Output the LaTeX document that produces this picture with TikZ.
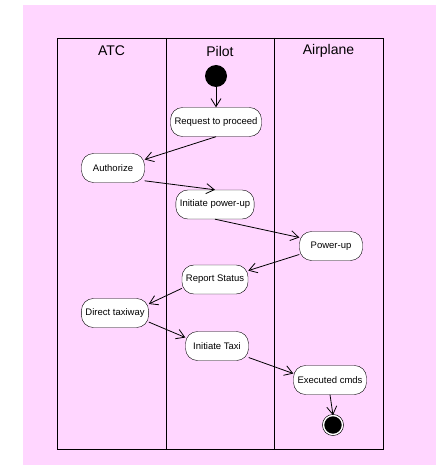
\documentclass[tikz,border=0pt]{standalone}
\usepackage{fontspec}
\setmainfont{Liberation Sans}
\usetikzlibrary{shapes.geometric, arrows.meta}
\definecolor{lanebg}{HTML}{FFD6FF}
\tikzstyle{lane} = [draw=black, line width=0.9pt]
\tikzstyle{lanetitle} = [font=\fontsize{14}{16}\selectfont]
\tikzstyle{action} = [rectangle, rounded corners=12pt, minimum width=63pt, minimum height=29pt, inner xsep=4pt, text centered, draw=black, fill=white, font=\fontsize{9.5}{11}\selectfont]
\tikzstyle{startnode} = [circle, fill=black, minimum size=22pt, inner sep=0pt]
\tikzstyle{stopnode} = [circle, draw=black, fill=black, line width=0.6pt, double=white, double distance=1.4pt, minimum size=19pt, inner sep=0pt]
\tikzstyle{arrow} = [line width=0.8pt, -{Straight Barb[length=8pt,width=10pt]}]

\begin{document}
\begin{tikzpicture}[x=1pt, y=-1pt]
\useasboundingbox (0,0) rectangle (436,465);
\fill [lanebg] (23,5) rectangle (436,465);
% swimlanes
\draw [lane] (57,38) rectangle (383,449);
\draw [lane] (166,38) -- (166,449);
\draw [lane] (274,38) -- (274,449);
\node (atc)   [lanetitle] at (111.5,51) {ATC};
\node (pilot) [lanetitle] at (220,51)   {Pilot};
\node (plane) [lanetitle] at (328.5,51) {Airplane};

\node (start) [startnode] at (216,76) {};
\node (req)   [action] at (216,122)   {Request to proceed};
\node (auth)  [action] at (113,168)   {Authorize};
\node (initp) [action] at (215,204.5) {Initiate power-up};
\node (pwr)   [action] at (331,246)   {Power-up};
\node (rep)   [action] at (215,279.5) {Report Status};
\node (dtx)   [action] at (115,313)   {Direct taxiway};
\node (itx)   [action] at (217,346)   {Initiate Taxi};
\node (exe)   [action] at (330,380)   {Executed cmds};
\node (stop)  [stopnode] at (333,425) {};

\draw [arrow] (start) -- (req.north);
\draw [arrow] (req.south) -- (auth.15);
\draw [arrow] (auth.-22) -- (initp.north);
\draw [arrow] (initp.south) -- (pwr.165);
\draw [arrow] (pwr.195) -- (rep.15);
\draw [arrow] (rep.195) -- (dtx.15);
\draw [arrow] (dtx.-15) -- (itx.165);
\draw [arrow] (itx.-20) -- (exe.170);
\draw [arrow] (exe.south) -- (stop.north);
\end{tikzpicture}
\end{document}
